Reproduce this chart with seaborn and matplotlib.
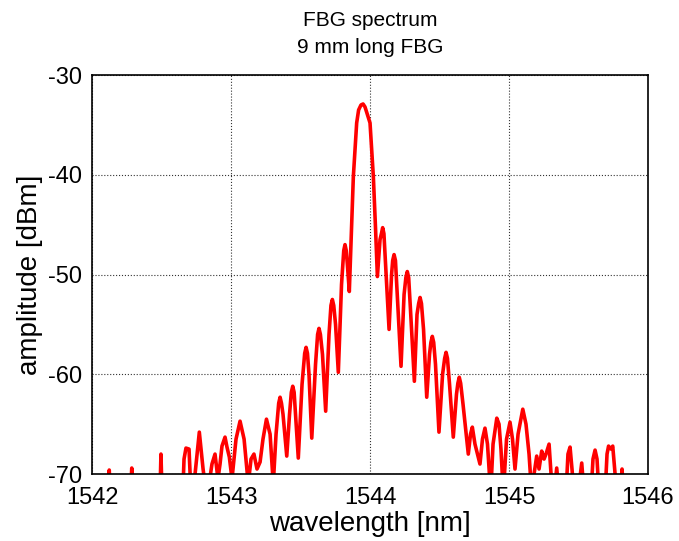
import numpy as np
import pandas as pd
import matplotlib
matplotlib.use("Agg")
import matplotlib.pyplot as plt
import seaborn as sns

# FBG reflection spectrum (values below -70 dBm are off scale)
wavelength = [
    1542.000, 1542.115, 1542.124, 1542.133, 1542.277, 1542.286, 1542.295, 1542.489,
    1542.496, 1542.504, 1542.653, 1542.662, 1542.676, 1542.698, 1542.712, 1542.734,
    1542.772, 1542.799, 1542.813, 1542.842, 1542.863, 1542.885, 1542.906, 1542.921,
    1542.935, 1542.957, 1542.971, 1542.988, 1543.007, 1543.036, 1543.065, 1543.094,
    1543.124, 1543.144, 1543.165, 1543.187, 1543.209, 1543.230, 1543.255, 1543.281,
    1543.304, 1543.324, 1543.353, 1543.374, 1543.401, 1543.421, 1543.444, 1543.464,
    1543.484, 1543.511, 1543.540, 1543.561, 1543.581, 1543.608, 1543.633, 1543.658,
    1543.681, 1543.705, 1543.729, 1543.752, 1543.772, 1543.795, 1543.820, 1543.837,
    1543.851, 1543.868, 1543.880, 1543.904, 1543.918, 1543.935, 1543.950, 1543.964,
    1543.980, 1544.000, 1544.024, 1544.040, 1544.053, 1544.072, 1544.091, 1544.112,
    1544.137, 1544.155, 1544.173, 1544.194, 1544.223, 1544.245, 1544.268, 1544.291,
    1544.319, 1544.338, 1544.360, 1544.385, 1544.408, 1544.428, 1544.448, 1544.471,
    1544.496, 1544.522, 1544.547, 1544.572, 1544.599, 1544.622, 1544.642, 1544.669,
    1544.707, 1544.723, 1544.736, 1544.755, 1544.791, 1544.809, 1544.827, 1544.845,
    1544.868, 1544.885, 1544.912, 1544.928, 1544.942, 1544.959, 1544.982, 1545.007,
    1545.025, 1545.043, 1545.065, 1545.099, 1545.122, 1545.144, 1545.163, 1545.180,
    1545.199, 1545.216, 1545.235, 1545.252, 1545.266, 1545.288, 1545.307, 1545.324,
    1545.343, 1545.360, 1545.410, 1545.424, 1545.439, 1545.453, 1545.468, 1545.496,
    1545.523, 1545.540, 1545.590, 1545.604, 1545.619, 1545.633, 1545.647, 1545.691,
    1545.705, 1545.716, 1545.734, 1545.746, 1545.763, 1545.777, 1545.806, 1545.813,
    1545.824, 1546.000,
]
amplitude = [
    -72.0, -72.0, -69.6, -72.0, -72.0, -69.4, -72.0, -72.0,
    -68.0, -72.0, -72.0, -68.5, -67.4, -67.5, -72.0, -71.0,
    -65.8, -69.5, -71.0, -71.0, -69.0, -68.0, -70.5, -69.0,
    -67.2, -66.3, -67.3, -68.3, -70.5, -66.5, -64.7, -66.5,
    -71.0, -68.5, -68.0, -69.5, -68.8, -66.5, -64.5, -66.0,
    -71.0, -66.0, -62.3, -64.0, -68.2, -64.0, -61.2, -64.0,
    -68.4, -61.0, -57.3, -60.0, -66.4, -59.0, -55.4, -58.0,
    -63.7, -56.0, -52.5, -55.0, -59.8, -51.0, -47.0, -49.0,
    -51.7, -45.0, -40.2, -34.8, -33.5, -33.0, -32.9, -33.2,
    -33.9, -34.8, -40.2, -45.5, -50.2, -46.5, -45.3, -49.0,
    -55.5, -50.0, -48.0, -51.5, -59.2, -52.0, -49.7, -53.5,
    -60.7, -54.0, -52.3, -55.5, -62.3, -58.0, -56.2, -59.0,
    -65.8, -60.0, -57.8, -61.0, -66.3, -62.0, -60.3, -63.0,
    -68.0, -66.0, -65.3, -67.0, -69.0, -66.5, -65.4, -67.0,
    -72.0, -67.0, -64.4, -65.0, -67.5, -72.0, -66.5, -64.8,
    -66.5, -69.5, -66.0, -63.5, -65.0, -68.0, -72.0, -70.0,
    -68.2, -69.5, -67.7, -68.5, -68.0, -67.0, -71.0, -72.0,
    -69.4, -72.0, -72.0, -68.0, -67.3, -69.5, -72.0, -72.0,
    -68.9, -72.0, -72.0, -68.5, -67.6, -68.5, -72.0, -72.0,
    -68.0, -67.2, -67.5, -67.2, -70.0, -72.0, -72.0, -69.5,
    -72.0, -72.0,
]

# extra samples on the shoulders of the side lobes (the lobes are rounded on the trace)
shoulder_wavelength = [
    1543.343, 1543.363, 1543.434, 1543.454, 1543.530, 1543.550, 1543.623, 1543.643,
    1543.719, 1543.739, 1543.811, 1543.829, 1544.082, 1544.100, 1544.163, 1544.183,
    1544.258, 1544.278, 1544.350, 1544.370, 1544.438, 1544.458, 1544.537, 1544.557,
    1544.632, 1544.652,
]
shoulder_amplitude = [
    -62.9, -62.9, -61.8, -61.8, -57.9, -57.9, -56.0, -56.0,
    -53.1, -53.1, -47.6, -47.6, -45.9, -45.9, -48.6, -48.6,
    -50.3, -50.3, -52.9, -52.9, -56.8, -56.8, -58.4, -58.4,
    -60.9, -60.9,
]

x_ticks = [1542, 1543, 1544, 1545, 1546]
y_ticks = [-70, -60, -50, -40, -30]

df = pd.concat([
    pd.DataFrame({"wavelength": wavelength, "amplitude": amplitude}),
    pd.DataFrame({"wavelength": shoulder_wavelength, "amplitude": shoulder_amplitude}),
]).sort_values("wavelength").reset_index(drop=True)

sns.set_style("white")
plt.rcParams['font.family'] = ['Liberation Sans', 'DejaVu Sans']
plt.rcParams['text.color'] = 'black'
plt.rcParams['axes.labelcolor'] = 'black'
plt.rcParams['xtick.color'] = 'black'
plt.rcParams['ytick.color'] = 'black'

fig = plt.figure(figsize=(6.79, 5.41), dpi=100)
ax = fig.add_axes([0.1355, 0.1238, 0.8189, 0.7375])

sns.lineplot(data=df, x="wavelength", y="amplitude", color="red", linewidth=2.6,
             sort=False, ax=ax)

ax.set_xlim(1542, 1546)
ax.set_ylim(-70, -30)
ax.set_xticks(x_ticks)
ax.set_yticks(y_ticks)
ax.set_xticklabels([str(t) for t in x_ticks])
ax.set_yticklabels([str(t) for t in y_ticks])
ax.grid(True, color="#333333", linestyle=":", linewidth=0.8)
ax.tick_params(direction="in", length=4, width=1, labelsize=17)
ax.tick_params(axis="x", pad=9)
ax.tick_params(axis="y", pad=7)
for s in ax.spines.values():
    s.set_color("black")
    s.set_linewidth(1.2)

ax.set_xlabel("wavelength [nm]", fontsize=20, labelpad=2)
ax.set_ylabel("amplitude [dBm]", fontsize=20, labelpad=4)
ax.set_title("FBG spectrum\n9 mm long FBG", fontsize=15, pad=16, linespacing=1.5)

fig.savefig("out.png", dpi=100)
